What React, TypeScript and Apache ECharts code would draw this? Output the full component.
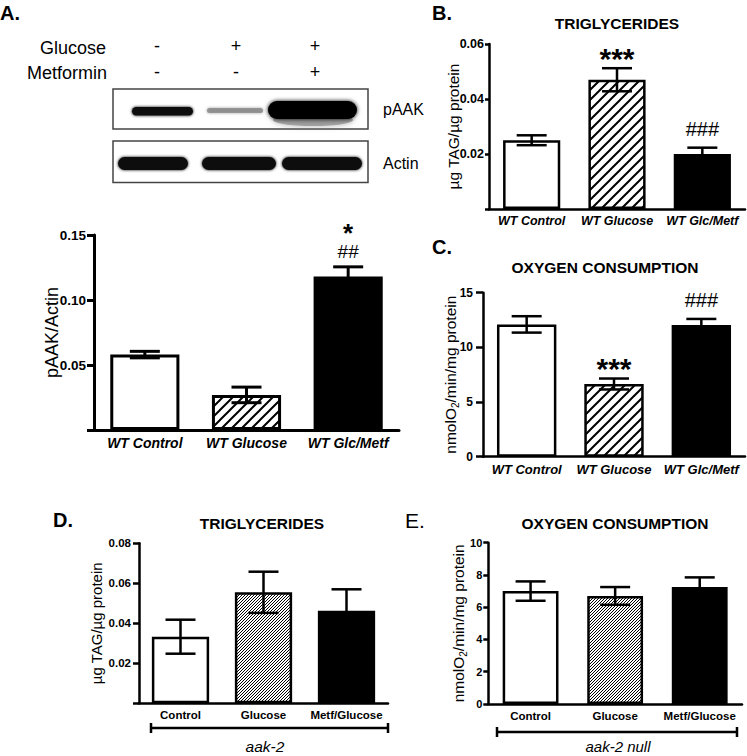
import React, { useEffect, useRef } from 'react';
import * as echarts from 'echarts';

const FONT = '"Liberation Sans", Arial, Helvetica, sans-serif';

// ---------- data ----------
const wtCategories = ['WT Control', 'WT Glucose', 'WT Glc/Metf'];
const aakCategories = ['Control', 'Glucose', 'Metf/Glucose'];

const pAakMean = [0.058, 0.027, 0.118];
const pAakSem = [0.0025, 0.006, 0.0075];
const pAakStars = ['', '', '*'];
const pAakHashes = ['', '', '##'];

const wtTagMean = [0.025, 0.047, 0.02];
const wtTagSem = [0.0018, 0.0042, 0.0023];
const wtTagStars = ['', '***', ''];
const wtTagHashes = ['', '', '###'];

const wtO2Mean = [12.1, 6.65, 12.05];
const wtO2Sem = [0.75, 0.5, 0.55];
const wtO2Stars = ['', '***', ''];
const wtO2Hashes = ['', '', '###'];

const aakTagMean = [0.0333, 0.0555, 0.0463];
const aakTagSem = [0.0085, 0.0103, 0.0107];

const aakO2Mean = [7.0, 6.7, 7.25];
const aakO2Sem = [0.6, 0.55, 0.6];

const glucoseSigns = ['-', '+', '+'];
const metforminSigns = ['-', '-', '+'];

// ---------- helpers ----------
function makeHatch(kind: 'wide' | 'fine') {
  const c = document.createElement('canvas');
  const size = kind === 'wide' ? 10 : 3;
  c.width = size;
  c.height = size;
  const ctx = c.getContext('2d')!;
  ctx.fillStyle = '#fff';
  ctx.fillRect(0, 0, size, size);
  if (kind === 'fine') {
    ctx.fillStyle = '#000';
    for (let i = 0; i < size; i++) ctx.fillRect(i, size - 1 - i, 1, 1);
  } else {
    ctx.strokeStyle = '#000';
    ctx.lineWidth = 2;
    ctx.beginPath();
    [0, size, 2 * size].forEach((k) => {
      ctx.moveTo(-2, k + 2);
      ctx.lineTo(size + 2, k - size - 2);
    });
    ctx.stroke();
  }
  return { image: c, repeat: 'repeat', imageWidth: size, imageHeight: size } as any;
}

export default function App() {
  const ref = useRef<HTMLDivElement>(null);

  useEffect(() => {
    const chart = echarts.init(ref.current!, null, { renderer: 'svg' });
    const wide = makeHatch('wide');
    const fine = makeHatch('fine');

    const panels = [
      {
        grid: { left: 94, top: 235, width: 305, height: 195 },
        cats: wtCategories, mean: pAakMean, sem: pAakSem, stars: pAakStars, hashes: pAakHashes,
        max: 0.15, interval: 0.05, dec: 2, showZero: false,
        tickFont: 13.5, catFont: 14, italic: true, catMargin: 6,
        name: 'pAAK/Actin', nameSize: 18, nameGap: 33,
        barWidth: '68%', hatch: wide, axisW: 3, tickLen: 7, labelMargin: 8,
        errW: 3, starOff: 17, hashOff: 19,
      },
      {
        grid: { left: 489, top: 44, width: 256, height: 165 },
        cats: wtCategories, mean: wtTagMean, sem: wtTagSem, stars: wtTagStars, hashes: wtTagHashes,
        max: 0.06, interval: 0.02, dec: 2, showZero: false,
        tickFont: 12.5, catFont: 12.5, italic: true, catMargin: 5,
        name: 'µg TAG/µg protein', nameSize: 15.5, nameGap: 28,
        barWidth: '67%', hatch: wide, axisW: 2.5, tickLen: 4, labelMargin: 5,
        errW: 2.5, starOff: 17, hashOff: 19,
      },
      {
        grid: { left: 483, top: 292.7, width: 262, height: 164 },
        cats: wtCategories, mean: wtO2Mean, sem: wtO2Sem, stars: wtO2Stars, hashes: wtO2Hashes,
        max: 15, interval: 5, dec: 0, showZero: true,
        tickFont: 12, catFont: 13, italic: true, catMargin: 6,
        name: '{n|nmolO}{s|2}{n|/min/mg protein}', nameSize: 15.5, nameGap: 23,
        barWidth: '68%', hatch: wide, axisW: 2.5, tickLen: 7, labelMargin: 10,
        errW: 2.5, starOff: 17, hashOff: 19,
      },
      {
        grid: { left: 139, top: 543.3, width: 249, height: 160 },
        cats: aakCategories, mean: aakTagMean, sem: aakTagSem, stars: null, hashes: null,
        max: 0.08, interval: 0.02, dec: 2, showZero: false,
        tickFont: 11.5, catFont: 11.5, italic: false, catMargin: 6,
        name: 'µg TAG/µg protein', nameSize: 15, nameGap: 35,
        barWidth: '69%', hatch: fine, axisW: 2.5, tickLen: 6, labelMargin: 8,
        errW: 2.5, starOff: 17, hashOff: 19,
      },
      {
        grid: { left: 488.3, top: 542.7, width: 253.7, height: 161.3 },
        cats: aakCategories, mean: aakO2Mean, sem: aakO2Sem, stars: null, hashes: null,
        max: 10, interval: 2, dec: 0, showZero: true,
        tickFont: 11, catFont: 11.5, italic: false, catMargin: 6,
        name: '{n|nmolO}{s|2}{n|/min/mg protein}', nameSize: 15.5, nameGap: 20,
        barWidth: '66%', hatch: fine, axisW: 2.5, tickLen: 5, labelMargin: 6,
        errW: 2.5, starOff: 17, hashOff: 19,
      },
    ];

    const grid = panels.map((p) => ({ ...p.grid, containLabel: false }));
    const xAxis = panels.map((p, i) => ({
      type: 'category', gridIndex: i, data: p.cats, boundaryGap: true,
      axisLine: { show: true, onZero: false, lineStyle: { color: '#000', width: p.axisW } },
      axisTick: { show: false },
      axisLabel: {
        interval: 0, margin: p.catMargin, color: '#000', fontFamily: FONT,
        fontSize: p.catFont, fontWeight: 'bold', fontStyle: p.italic ? 'italic' : 'normal',
      },
      splitLine: { show: false },
    }));
    const yAxis = panels.map((p, i) => ({
      type: 'value', gridIndex: i, min: 0, max: p.max, interval: p.interval,
      name: p.name, nameLocation: 'middle', nameGap: p.nameGap, nameRotate: 90,
      nameMoveOverlap: false,
      nameTextStyle: {
        color: '#000', fontFamily: FONT, fontSize: p.nameSize,
        rich: {
          n: { color: '#000', fontFamily: FONT, fontSize: p.nameSize, lineHeight: 20 },
          s: { color: '#000', fontFamily: FONT, fontSize: 10, verticalAlign: 'bottom', lineHeight: 20 },
        },
      },
      axisLine: { show: true, lineStyle: { color: '#000', width: p.axisW } },
      axisTick: { show: true, length: p.tickLen, lineStyle: { color: '#000', width: p.axisW } },
      axisLabel: {
        margin: p.labelMargin, color: '#000', fontFamily: FONT, fontSize: p.tickFont, fontWeight: 'bold',
        formatter: (v: number) => (v === 0 && !p.showZero ? '' : v.toFixed(p.dec)),
      },
      splitLine: { show: false },
    }));

    const series: any[] = [];
    panels.forEach((p, i) => {
      const fills = ['#fff', p.hatch, '#000'];
      series.push({
        type: 'bar', xAxisIndex: i, yAxisIndex: i, barWidth: p.barWidth, z: 2,
        data: p.mean.map((v, j) => ({
          value: v,
          itemStyle: { color: fills[j], borderColor: '#000', borderWidth: p.axisW },
        })),
        emphasis: { disabled: true },
      });
      series.push({
        type: 'custom', xAxisIndex: i, yAxisIndex: i, z: 5, clip: false,
        data: p.mean.map((v, j) => [j, v, p.sem[j]]),
        renderItem: (params: any, api: any) => {
          const j = api.value(0);
          const m = api.value(1);
          const s = api.value(2);
          const top = api.coord([j, m + s]);
          const bot = api.coord([j, m - s]);
          const hw = 15;
          const st = { stroke: '#000', lineWidth: p.errW };
          const children: any[] = [
            { type: 'line', shape: { x1: top[0], y1: top[1], x2: bot[0], y2: bot[1] }, style: st },
            { type: 'line', shape: { x1: top[0] - hw, y1: top[1], x2: top[0] + hw, y2: top[1] }, style: st },
            { type: 'line', shape: { x1: bot[0] - hw, y1: bot[1], x2: bot[0] + hw, y2: bot[1] }, style: st },
          ];
          const idx = params.dataIndex;
          const hash = p.hashes ? p.hashes[idx] : '';
          const star = p.stars ? p.stars[idx] : '';
          if (hash && star) {
            children.push({
              type: 'text', x: top[0], y: top[1] - 5,
              style: {
                text: '{s|' + star + '}\n{h|' + hash + '}',
                align: 'center', verticalAlign: 'bottom', fill: '#000',
                rich: {
                  s: { fontSize: 26, fontWeight: 'bold', fontFamily: FONT, fill: '#000', lineHeight: 18, align: 'center' },
                  h: { fontSize: 19, fontFamily: FONT, fill: '#000', lineHeight: 20, align: 'center' },
                },
              },
            });
          } else if (hash) {
            children.push({
              type: 'text', x: top[0], y: top[1] - p.hashOff,
              style: { text: hash, fontSize: 20, fontFamily: FONT, fill: '#000', align: 'center', verticalAlign: 'middle' },
            });
          } else if (star) {
            children.push({
              type: 'text', x: top[0], y: top[1] - p.starOff + 7,
              style: { text: star, fontSize: 30, fontWeight: 'bold', fontFamily: FONT, fill: '#000', align: 'center', verticalAlign: 'middle' },
            });
          }
          return { type: 'group', children };
        },
      });
    });

    const txt = (text: string, x: number, y: number, o: any = {}) => ({
      type: 'text', x, y, silent: true,
      style: {
        text, fontFamily: FONT, fontSize: o.size || 15, fontWeight: o.weight || 'normal',
        fontStyle: o.style || 'normal', fill: '#000', align: o.align || 'center', verticalAlign: 'middle',
      },
    });

    const band = (x: number, y: number, w: number, h: number, fill: string, blur: number, opacity = 1) => ({
      type: 'rect', silent: true,
      shape: { x, y, width: w, height: h, r: h / 2 },
      style: { fill, shadowBlur: blur, shadowColor: fill, opacity },
    });

    const signX = [157, 236, 315];
    const graphic: any[] = [
      txt('A.', 0, 13, { size: 20, weight: 'bold', align: 'left' }),
      txt('B.', 432, 13, { size: 20, weight: 'bold', align: 'left' }),
      txt('C.', 432, 247, { size: 20, weight: 'bold', align: 'left' }),
      txt('D.', 53, 520, { size: 20, weight: 'bold', align: 'left' }),
      txt('E.', 405, 520, { size: 21, align: 'left' }),
      txt('TRIGLYCERIDES', 617, 23, { weight: 'bold', size: 15.5 }),
      txt('OXYGEN CONSUMPTION', 605, 267, { weight: 'bold', size: 15.5 }),
      txt('TRIGLYCERIDES', 262, 523, { weight: 'bold', size: 15.5 }),
      txt('OXYGEN CONSUMPTION', 615, 523, { weight: 'bold', size: 15.5 }),
      // western blot
      txt('Glucose', 106, 48, { size: 18, align: 'right' }),
      txt('Metformin', 107, 73, { size: 18, align: 'right' }),
      ...glucoseSigns.map((s, k) => txt(s, signX[k], 46, { size: 18 })),
      ...metforminSigns.map((s, k) => txt(s, signX[k], 72, { size: 18 })),
      { type: 'rect', silent: true, shape: { x: 113, y: 89, width: 255, height: 40 }, style: { fill: '#fff', stroke: '#444', lineWidth: 1.5 } },
      { type: 'rect', silent: true, shape: { x: 113, y: 141, width: 255, height: 41.5 }, style: { fill: '#fff', stroke: '#444', lineWidth: 1.5 } },
      { type: 'ellipse', silent: true, shape: { cx: 313, cy: 120, rx: 40, ry: 6 }, style: { fill: '#8a8a8a', shadowBlur: 6, shadowColor: '#8a8a8a', opacity: 0.7 } },
      band(132, 107, 61, 8.5, '#111', 3),
      band(207, 108, 56, 5, '#888', 3, 0.8),
      band(268, 101, 89, 18, '#050505', 4),
      band(118, 157, 70, 13, '#111', 3),
      band(202, 157, 74, 13, '#111', 3),
      band(282, 157, 80, 13, '#111', 3),
      txt('pAAK', 383, 109, { size: 16, align: 'left' }),
      txt('Actin', 383, 163, { size: 16, align: 'left' }),
      // group brackets
      { type: 'line', silent: true, shape: { x1: 151, y1: 728, x2: 388, y2: 728 }, style: { stroke: '#000', lineWidth: 2.5 } },
      { type: 'line', silent: true, shape: { x1: 151, y1: 723, x2: 151, y2: 733 }, style: { stroke: '#000', lineWidth: 2.5 } },
      { type: 'line', silent: true, shape: { x1: 388, y1: 723, x2: 388, y2: 733 }, style: { stroke: '#000', lineWidth: 2.5 } },
      txt('aak-2', 265, 746, { size: 15.5, style: 'italic' }),
      { type: 'line', silent: true, shape: { x1: 497, y1: 732, x2: 737, y2: 732 }, style: { stroke: '#000', lineWidth: 2.5 } },
      { type: 'line', silent: true, shape: { x1: 497, y1: 727, x2: 497, y2: 737 }, style: { stroke: '#000', lineWidth: 2.5 } },
      { type: 'line', silent: true, shape: { x1: 737, y1: 727, x2: 737, y2: 737 }, style: { stroke: '#000', lineWidth: 2.5 } },
      txt('aak-2 null', 618, 746, { size: 15, style: 'italic' }),
    ];

    chart.setOption({
      animation: false,
      backgroundColor: '#fff',
      textStyle: { fontFamily: FONT },
      grid, xAxis, yAxis, series, graphic,
    });
    return () => chart.dispose();
  }, []);

  return (
    <div
      ref={ref}
      style={{ position: 'fixed', left: 0, top: 0, width: 747, height: 756, background: '#fff' }}
    />
  );
}
